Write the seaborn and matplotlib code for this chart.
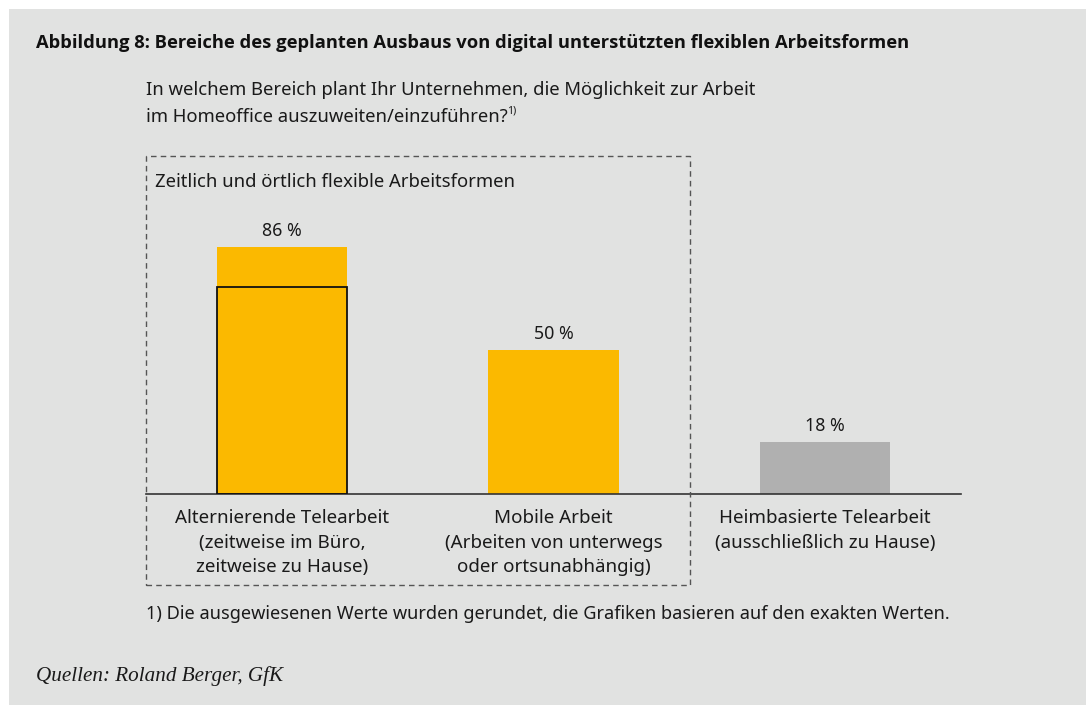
import pandas as pd
import seaborn as sns
import matplotlib.pyplot as plt
from matplotlib.patches import Rectangle

# data
categories = ["Alternierende Telearbeit\n(zeitweise im Büro,\nzeitweise zu Hause)",
              "Mobile Arbeit\n(Arbeiten von unterwegs\noder ortsunabhängig)",
              "Heimbasierte Telearbeit\n(ausschließlich zu Hause)"]
shares = [86, 50, 18]
inner_share = 72  # outlined part of the first bar
bar_colors = ["#FBB900", "#FBB900", "#B0B0B0"]

title = "Abbildung 8: Bereiche des geplanten Ausbaus von digital unterstützten flexiblen Arbeitsformen"
question_1 = "In welchem Bereich plant Ihr Unternehmen, die Möglichkeit zur Arbeit"
question_2 = "im Homeoffice auszuweiten/einzuführen?"
group_label = "Zeitlich und örtlich flexible Arbeitsformen"
footnote = "1) Die ausgewiesenen Werte wurden gerundet, die Grafiken basieren auf den exakten Werten."
source = "Quellen: Roland Berger, GfK"

bg = "#E1E2E1"
ink = "#1a1a1a"
sns.set_style("white")
plt.rcParams["font.family"] = ["Noto Sans", "DejaVu Sans"]

W, H = 1086, 705
fig = plt.figure(figsize=(W / 100, H / 100), dpi=100)
fig.patch.set_facecolor("white")
fig.add_artist(Rectangle((9 / W, 0), 1, 1 - 9 / H, transform=fig.transFigure,
                         facecolor=bg, edgecolor="none", zorder=-10))

# axes: baseline at y=494px, 100 % = 287px
ax = fig.add_axes([146 / W, 1 - 494 / H, (961 - 146) / W, 287.2 / H])
ax.set_facecolor("none")

df = pd.DataFrame({"cat": categories, "share": shares})
sns.barplot(data=df, x="cat", y="share", hue="cat", palette=bar_colors,
            width=0.48, legend=False, ax=ax, saturation=1, linewidth=0)
for c in ax.containers:
    ax.bar_label(c, fmt="%.0f %%", padding=5, fontsize=12.8, color=ink)

ax.bar(0, inner_share, width=0.48, fill=False, edgecolor="#111111", linewidth=1.3, zorder=3)

ax.set_xlim(-0.5, 2.5)
ax.set_ylim(0, 100)
ax.set_xlabel("")
ax.set_ylabel("")
ax.set_yticks([])
for s in ["top", "left", "right"]:
    ax.spines[s].set_visible(False)
ax.spines["bottom"].set_color("#333333")
ax.spines["bottom"].set_linewidth(1.2)
ax.tick_params(axis="x", length=0, pad=11, labelsize=13.5, labelcolor=ink)
for t in ax.get_xticklabels():
    t.set_linespacing(1.45)

# dashed group box
fig.add_artist(Rectangle((146 / W, 1 - 585 / H), (690 - 146) / W, (585 - 156) / H,
                         transform=fig.transFigure, fill=False, edgecolor="#555555",
                         linestyle=(0, (4, 3)), linewidth=1.0))

fig.text(36 / W, 1 - 43 / H, title, fontsize=13.2, fontweight="bold", va="center",
         family=["Open Sans", "DejaVu Sans"], color="#111111")
fig.text(146 / W, 1 - 90 / H, question_1, fontsize=13.3, va="center", color=ink)
q2 = fig.text(146 / W, 1 - 117 / H, question_2, fontsize=13.3, va="center", color=ink)
fig.text(155 / W, 1 - 182 / H, group_label, fontsize=13.3, va="center", color=ink)
fig.text(146 / W, 1 - 614 / H, footnote, fontsize=13.1, va="center", color=ink)
fig.text(36 / W, 1 - 676 / H, source, fontsize=15.2, va="center", style="italic",
         family=["Liberation Serif", "DejaVu Serif"], color=ink)

# superscript footnote mark after the question
fig.canvas.draw()
bb = q2.get_window_extent(renderer=fig.canvas.get_renderer())
fig.text((bb.x1 - 1) / W, 1 - 111 / H, "1)", fontsize=7.5, va="center", color=ink)

fig.savefig("out.png", dpi=100, facecolor=fig.get_facecolor())
